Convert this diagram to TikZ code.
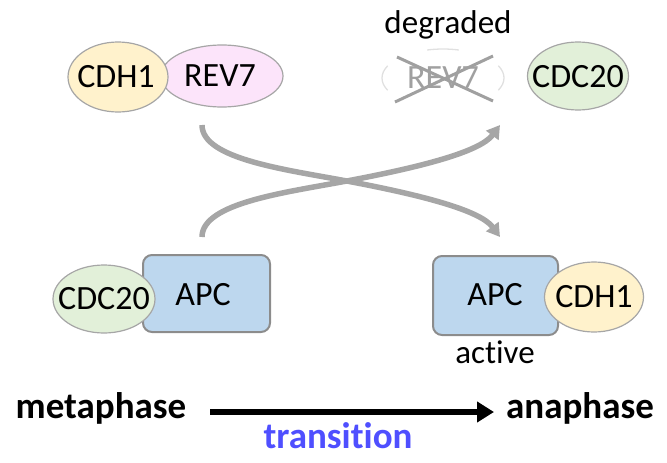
\documentclass[tikz,border=0pt]{standalone}
\usepackage{fontspec}
\setmainfont[Ligatures=NoCommon]{Carlito}
\usetikzlibrary{shapes.geometric,arrows.meta}
\definecolor{cdhfill}{HTML}{FFF2CC}
\definecolor{revfill}{HTML}{FCE4FA}
\definecolor{cdcfill}{HTML}{E2F0D9}
\definecolor{apcfill}{HTML}{BDD7EE}
\definecolor{edgegray}{HTML}{A6A6A6}
\definecolor{boxgray}{HTML}{8C8C8C}
\definecolor{ghost}{HTML}{E0E0E0}
\definecolor{crossgray}{HTML}{A0A0A0}
\definecolor{transblue}{HTML}{4F4FFF}
\begin{document}
\begin{tikzpicture}[x=1pt,y=-1pt,
  ell/.style={ellipse, draw=edgegray, line width=1.2pt, inner sep=0pt},
  apcbox/.style={rectangle, rounded corners=9pt, draw=boxgray, line width=2pt,
    fill=apcfill, inner sep=0pt},
  lbl/.style={font=\fontsize{33}{33}\selectfont, inner sep=0pt},
  big/.style={font=\fontsize{34}{34}\selectfont, inner sep=0pt},
  phase/.style={font=\bfseries\fontsize{37}{37}\selectfont, inner sep=0pt, anchor=base},
  swap/.style={draw=edgegray, line width=5.5pt, -{Triangle[length=13pt,width=15pt]}}
]
\useasboundingbox (0,0) rectangle (667,463);

% top left complex
\node[ell, fill=revfill, minimum width=122pt, minimum height=62pt] (rev) at (222,76) {};
\node[big] (revt) at (220,76) {REV7};
\node[ell, fill=cdhfill, minimum width=100pt, minimum height=70pt] (cdhA) at (118,77) {};
\node[big] (cdhAt) at (116,77) {CDH1};

% degraded REV7
\node[lbl, anchor=base] (deg) at (448,33) {degraded};
\draw[ghost, line width=1.3pt] (387.7,90.3) arc[start angle=155, end angle=205, x radius=61, y radius=29];
\draw[ghost, line width=1.3pt] (498.3,65.7) arc[start angle=-25, end angle=25, x radius=61, y radius=29];
\draw[ghost, line width=1.3pt] (427.2,50.0) arc[start angle=255, end angle=285, x radius=61, y radius=29];
\node[big, text=crossgray] (ghostrev) at (443,78) {REV7};
\coordinate (c1) at (395,102);
\coordinate (c2) at (493,56);
\coordinate (c3) at (397,57);
\coordinate (c4) at (493,101);
\draw[crossgray, line width=3pt] (c1) -- (c2);
\draw[crossgray, line width=3pt] (c3) -- (c4);

% top right CDC20
\node[ell, fill=cdcfill, minimum width=101pt, minimum height=68pt] (cdcB) at (578,76) {};
\node[big] (cdcBt) at (578,77) {CDC20};

% bottom left
\node[apcbox, minimum width=127pt, minimum height=77pt] (apcA) at (206.5,293.5) {};
\node[big] (apcAt) at (203,295) {APC};
\node[ell, fill=cdcfill, minimum width=102pt, minimum height=68pt] (cdcA) at (104,299) {};
\node[big] (cdcAt) at (104,299) {CDC20};

% bottom right
\node[apcbox, minimum width=125pt, minimum height=79pt] (apcB) at (495.5,295.5) {};
\node[big] (apcBt) at (495,295) {APC};
\node[ell, fill=cdhfill, minimum width=99pt, minimum height=70pt] (cdhB) at (594,297) {};
\node[big] (cdhBt) at (594,297) {CDH1};
\node[lbl, anchor=base] (act) at (495,363) {active};

% swapping arrows
\coordinate (s1) at (202,125);
\coordinate (e1) at (500,237);
\coordinate (s2) at (202,237);
\coordinate (e2) at (500,125);
\draw[swap] (s1) .. controls (202,160) and (290,170) .. (352,182) .. controls (420,195) and (480,210) .. (e1);
\draw[swap] (s2) .. controls (202,202) and (290,192) .. (352,180) .. controls (420,167) and (480,152) .. (e2);

% bottom transition
\node[phase] (meta) at (101,418) {metaphase};
\node[phase] (ana) at (580,418) {anaphase};
\node[phase, text=transblue] (trans) at (338,448) {transition};
\coordinate (m1) at (210,412);
\coordinate (a1) at (494,412);
\draw[line width=6pt, -{Triangle[length=17pt,width=20pt]}] (m1) -- (a1);
\end{tikzpicture}
\end{document}
